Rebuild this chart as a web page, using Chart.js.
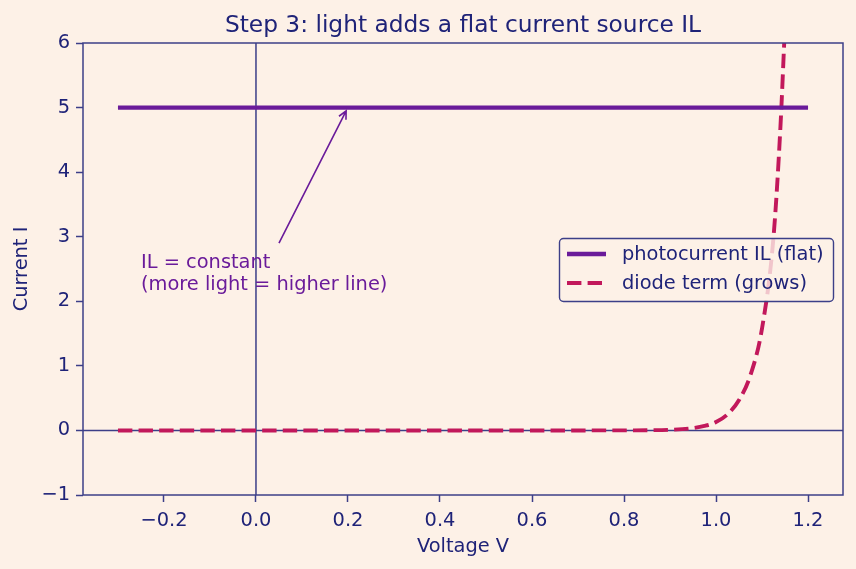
<!DOCTYPE html>
<html>
<head>
    <title>Step 3: light adds a flat current source IL</title>
    <script src="https://cdn.jsdelivr.net/npm/chart.js@4.4.1/dist/chart.umd.min.js"></script>
    <style>
        html, body { margin: 0; padding: 0; background: #fdf1e7; }
        .chart-container { width: 856px; height: 569px; }
    </style>
</head>
<body>
    <div class="chart-container">
        <canvas id="ivChart"></canvas>
    </div>

    <script>
        // photocurrent IL (flat)
        const ilVoltage = [-0.3, 1.2];
        const ilCurrent = [5, 5];

        // diode term (grows)
        const diodeVoltage = [-0.3, -0.2, -0.1, 0.0, 0.1, 0.2, 0.3, 0.4, 0.5, 0.6, 0.7, 0.8, 0.85, 0.9, 0.95, 0.975, 1.0, 1.025, 1.05, 1.075, 1.1, 1.125, 1.14, 1.15];
        const diodeCurrent = [0, 0, 0, 0, 0, 0, 0, 0, 0, 0, 0, 0.001, 0.003, 0.01, 0.036, 0.07, 0.13, 0.25, 0.47, 0.86, 1.58, 3.0, 4.7, 6.3];

        const xTicks = [-0.2, 0.0, 0.2, 0.4, 0.6, 0.8, 1.0, 1.2];
        const yTicks = [-1, 0, 1, 2, 3, 4, 5, 6];

        const navy = '#1f2378';
        const frame = '#3c3f88';
        const purple = '#6a1b9a';
        const crimson = '#c2185b';
        const font = "'DejaVu Sans', sans-serif";
        const fs = 19.4;

        const toXY = (xs, ys) => xs.map((x, i) => ({ x: x, y: ys[i] }));

        const extras = {
            id: 'extras',
            beforeDatasetsDraw(chart) {
                const { ctx, chartArea: a, scales: { x, y } } = chart;
                ctx.save();
                // axhline / axvline at zero
                ctx.strokeStyle = frame;
                ctx.lineWidth = 1.5;
                ctx.beginPath();
                const x0 = x.getPixelForValue(0);
                const y0 = y.getPixelForValue(0);
                ctx.moveTo(x0, a.top); ctx.lineTo(x0, a.bottom);
                ctx.moveTo(a.left, y0); ctx.lineTo(a.right, y0);
                ctx.stroke();
                ctx.restore();
            },
            afterDatasetsDraw(chart) {
                const { ctx, scales: { x, y } } = chart;
                ctx.save();
                // annotation arrow
                const sx = x.getPixelForValue(0.05), sy = y.getPixelForValue(2.9);
                const ex = x.getPixelForValue(0.196), ey = y.getPixelForValue(4.95);
                ctx.strokeStyle = purple;
                ctx.lineWidth = 1.6;
                ctx.beginPath();
                ctx.moveTo(sx, sy); ctx.lineTo(ex, ey);
                const ang = Math.atan2(ey - sy, ex - sx);
                const hl = 9;
                ctx.moveTo(ex - hl * Math.cos(ang - 0.45), ey - hl * Math.sin(ang - 0.45));
                ctx.lineTo(ex, ey);
                ctx.lineTo(ex - hl * Math.cos(ang + 0.45), ey - hl * Math.sin(ang + 0.45));
                ctx.stroke();

                ctx.fillStyle = purple;
                ctx.font = fs + 'px ' + font;
                ctx.textAlign = 'left';
                ctx.textBaseline = 'alphabetic';
                const tx = x.getPixelForValue(-0.25);
                ctx.fillText('IL = constant', tx, 268);
                ctx.fillText('(more light = higher line)', tx, 290);

                // legend box
                const lx = 559, ly = 238, lw = 274, lh = 63;
                ctx.beginPath();
                ctx.roundRect(lx + 0.5, ly + 0.5, lw, lh, 4);
                ctx.fillStyle = 'rgba(253, 241, 231, 0.8)';
                ctx.fill();
                ctx.strokeStyle = frame;
                ctx.lineWidth = 1.4;
                ctx.stroke();

                ctx.lineWidth = 4.3;
                ctx.strokeStyle = purple;
                ctx.beginPath(); ctx.moveTo(567, 254); ctx.lineTo(606, 254); ctx.stroke();
                ctx.lineWidth = 3.9;
                ctx.strokeStyle = crimson;
                ctx.setLineDash([14.4, 6.2]);
                ctx.beginPath(); ctx.moveTo(567, 283); ctx.lineTo(606, 283); ctx.stroke();
                ctx.setLineDash([]);

                ctx.fillStyle = navy;
                ctx.font = fs + 'px ' + font;
                ctx.textBaseline = 'middle';
                ctx.fillText('photocurrent IL (flat)', 622, 255);
                ctx.fillText('diode term (grows)', 622, 284);
                ctx.restore();
            },
            afterDraw(chart) {
                const { ctx, chartArea: a } = chart;
                ctx.save();
                ctx.strokeStyle = frame;
                ctx.lineWidth = 1.5;
                ctx.strokeRect(a.left, a.top, a.right - a.left, a.bottom - a.top);
                ctx.fillStyle = navy;
                ctx.font = '23.3px ' + font;
                ctx.textAlign = 'center';
                ctx.textBaseline = 'middle';
                ctx.fillText('Step 3: light adds a flat current source IL', (a.left + a.right) / 2, 26);
                ctx.restore();
            }
        };

        new Chart(document.getElementById('ivChart'), {
            type: 'scatter',
            data: {
                datasets: [{
                    label: 'photocurrent IL (flat)',
                    data: toXY(ilVoltage, ilCurrent),
                    showLine: true,
                    borderColor: purple,
                    borderWidth: 4.3,
                    pointRadius: 0
                }, {
                    label: 'diode term (grows)',
                    data: toXY(diodeVoltage, diodeCurrent),
                    showLine: true,
                    borderColor: crimson,
                    borderWidth: 3.9,
                    borderDash: [14.4, 6.2],
                    pointRadius: 0,
                    cubicInterpolationMode: 'monotone'
                }]
            },
            options: {
                responsive: true,
                maintainAspectRatio: false,
                animation: false,
                layout: { padding: { left: 0, right: 13, top: 43, bottom: 0 } },
                plugins: {
                    legend: { display: false },
                    tooltip: { enabled: false },
                    title: { display: false }
                },
                scales: {
                    x: {
                        type: 'linear',
                        min: -0.376,
                        max: 1.276,
                        afterBuildTicks: s => { s.ticks = xTicks.map(v => ({ value: v })); },
                        afterFit: s => { s.height = 74; },
                        grid: { drawOnChartArea: false, drawTicks: true, tickLength: 7, tickColor: frame, tickWidth: 1.5 },
                        border: { display: false },
                        ticks: {
                            color: navy, font: { family: font, size: fs }, padding: 7,
                            callback: v => v.toFixed(1).replace('-', '\u2212')
                        },
                        title: { display: true, text: 'Voltage V', color: navy, font: { family: font, size: fs }, padding: { top: 0, bottom: 10 } }
                    },
                    y: {
                        min: -1,
                        max: 6,
                        afterBuildTicks: s => { s.ticks = yTicks.map(v => ({ value: v })); },
                        afterFit: s => { s.width = 83; },
                        grid: { drawOnChartArea: false, drawTicks: true, tickLength: 7, tickColor: frame, tickWidth: 1.5 },
                        border: { display: false },
                        ticks: {
                            color: navy, font: { family: font, size: fs }, padding: 6,
                            callback: v => String(v).replace('-', '\u2212')
                        },
                        title: { display: true, text: 'Current I', color: navy, font: { family: font, size: fs }, padding: { top: 10, bottom: 0 } }
                    }
                }
            },
            plugins: [extras]
        });
    </script>
</body>
</html>
